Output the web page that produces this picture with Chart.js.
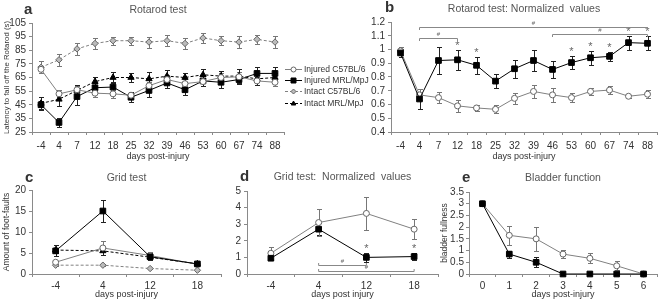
<!DOCTYPE html>
<html><head><meta charset="utf-8">
<script src="https://cdn.jsdelivr.net/npm/chart.js@4.4.1/dist/chart.umd.min.js"></script>
<style>
html,body{margin:0;padding:0;background:#fff;width:662px;height:303px;overflow:hidden;position:relative;}
canvas{position:absolute;}
</style></head><body>
<canvas id="ca" width="380" height="165" style="left:0;top:0;width:380px;height:165px"></canvas>
<canvas id="cb" width="302" height="165" style="left:360px;top:0;width:302px;height:165px"></canvas>
<canvas id="cc" width="226" height="138" style="left:0;top:165px;width:226px;height:138px"></canvas>
<canvas id="cd" width="217" height="138" style="left:226px;top:165px;width:217px;height:138px"></canvas>
<canvas id="ce" width="222" height="138" style="left:440px;top:165px;width:222px;height:138px"></canvas>
<script>
// ---------- DATA ----------
const daysA = ['-4','4','7','12','18','25','32','39','46','53','60','67','74','88'];
const injC57_a = [71,53,56,53.5,53,52,59,63.5,60.5,62,65,65.5,62.5,61.5];
const injC57_a_err = [2.5,2.5,3,3,3,2.5,3,3.5,3.5,3,3.5,3.5,3,3];
const injMRL_a = [45,32,51,57.5,58,50.5,55.5,61,56,62.5,61.5,63.5,68,68];
const injMRL_a_err = [3,3.5,6,3.5,3.5,3.5,4.5,4,4,3.5,4,3.5,4.5,5];
const intC57_a = [72.5,78,86,90,92,92,91,92,90,94,92,91,93,91];
const intC57_a_err = [4.5,4.5,4.5,4,3,3,4,4,4,3.5,3.5,4.5,3.5,4.5];
const intMRL_a = [46,49,55.5,62,65,65,64,66,65,67,66,66,64,65];
const intMRL_a_err = [4.5,5,4,3.5,4,3.5,5,4.5,3.5,4.5,3.5,5,4.5,3.5];

const injMRL_b = [0.975,0.64,0.92,0.925,0.885,0.77,0.86,0.92,0.855,0.905,0.94,0.95,1.05,1.045];
const injMRL_b_err = [0.03,0.07,0.1,0.075,0.06,0.05,0.065,0.08,0.06,0.05,0.05,0.03,0.05,0.05];
const injC57_b = [0.99,0.67,0.65,0.59,0.575,0.565,0.645,0.695,0.67,0.65,0.695,0.705,0.66,0.675];
const injC57_b_err = [0.03,0.04,0.04,0.045,0.02,0.03,0.04,0.05,0.05,0.03,0.025,0.03,0.01,0.03];
const starsB = ['12','18','53','60','67','74','88'];
const bracketsB = [
  {from:'4', to:'12', y:1.085},
  {from:'4', to:'88', y:1.165},
  {from:'46', to:'88', y:1.115}
];

const daysC = ['-4','4','12','18'];
const injMRL_c = [5.5,15,4.1,2.4];
const injMRL_c_err = [1.3,2.7,0.8,0.4];
const injC57_c = [2.8,6.2,4.4,2.3];
const injC57_c_err = [0.3,1.6,0.9,0.3];
const intMRL_c = [5.7,5.5,4.0,2.4];
const intMRL_c_err = [0.6,1.0,0.6,0.3];
const intC57_c = [2.1,2.1,1.3,0.9];
const intC57_c_err = [0.3,0.3,0.2,0.2];

const injC57_d = [1.25,3.1,3.65,2.7];
const injC57_d_err = [0.35,0.8,1.0,0.6];
const injMRL_d = [0.95,2.7,1.0,1.05];
const injMRL_d_err = [0.12,0.35,0.25,0.2];
const starsD = ['12','18'];
const bracketsD = [
  {from:'4', to:'12', y:0.55},
  {from:'4', to:'18', y:0.18}
];

const daysE = ['0','1','2','3','4','5','6'];
const injC57_e = [3,1.65,1.5,0.85,0.67,0.35,0];
const injC57_e_err = [0,0.42,0.5,0.17,0.22,0.2,0];
const injMRL_e = [3,0.85,0.5,0,0,0,0];
const injMRL_e_err = [0,0.15,0.22,0,0,0,0];

const seriesNames = ['Injured C57BL/6','Injured MRL/MpJ','Intact C57BL/6','Intact MRL/MpJ'];

// ---------- STYLE ----------
const F = '"Liberation Sans", Arial, sans-serif';
const AX = '#8a8a8a';
const TXT = '#333';
const GRAY = '#808080';

function styleInjC57(){ return {borderColor:GRAY, borderWidth:1, pointStyle:'circle', pointRadius:3, pointBackgroundColor:'#fff', pointBorderColor:'#666', pointBorderWidth:1, errColor:'#777'}; }
function styleInjMRL(){ return {borderColor:'#000', borderWidth:1, pointStyle:'rect', pointRadius:4, pointBackgroundColor:'#000', pointBorderColor:'#000', pointBorderWidth:1, errColor:'#222'}; }
function styleIntC57(){ return {borderColor:GRAY, borderWidth:1, borderDash:[3,2], pointStyle:'rectRot', pointRadius:3.2, pointBackgroundColor:'#bbb', pointBorderColor:'#666', pointBorderWidth:1, errColor:'#777'}; }
function styleIntMRL(){ return {borderColor:'#000', borderWidth:1, borderDash:[3,2], pointStyle:'triangle', pointRadius:3.6, pointBackgroundColor:'#000', pointBorderColor:'#000', pointBorderWidth:1, errColor:'#222'}; }

function ds(label, data, err, st){
  return Object.assign({label, data, errors:err, clip:false, tension:0, fill:false}, st);
}

// ---------- PLUGINS ----------
const errorBars = {
  id:'errorBars',
  beforeDatasetsDraw(chart){
    const ctx = chart.ctx, ys = chart.scales.y;
    chart.data.datasets.forEach((d,i)=>{
      if(!d.errors) return;
      const meta = chart.getDatasetMeta(i);
      ctx.save();
      ctx.strokeStyle = d.errColor || d.borderColor; ctx.lineWidth = 1; ctx.setLineDash([]);
      d.data.forEach((v,j)=>{
        const e = d.errors[j]; if(!e) return;
        const x = Math.round(meta.data[j].x) + 0.5;
        const y1 = Math.round(ys.getPixelForValue(v+e)) + 0.5, y2 = Math.round(ys.getPixelForValue(v-e)) + 0.5;
        ctx.beginPath();
        ctx.moveTo(x,y1); ctx.lineTo(x,y2);
        ctx.moveTo(x-2.5,y1); ctx.lineTo(x+2.5,y1);
        ctx.moveTo(x-2.5,y2); ctx.lineTo(x+2.5,y2);
        ctx.stroke();
      });
      ctx.restore();
    });
  }
};

const panelText = {
  id:'panelText',
  afterDraw(chart, args, o){
    const ctx = chart.ctx, ca = chart.chartArea;
    ctx.save();
    ctx.textBaseline = 'middle';
    if(o.title){
      ctx.font = '10.5px ' + F; ctx.fillStyle = '#555'; ctx.textAlign = 'center';
      ctx.fillText(o.title, (ca.left+ca.right)/2, o.ty);
    }
    if(o.letter){
      ctx.font = 'bold 15px ' + F; ctx.fillStyle = '#333'; ctx.textAlign = 'left';
      ctx.fillText(o.letter, o.lx, o.ly);
    }
    ctx.restore();
  }
};

const annot = {
  id:'annot',
  afterDatasetsDraw(chart, args, o){
    const ctx = chart.ctx, xs = chart.scales.x, ys = chart.scales.y;
    const labels = chart.data.labels;
    ctx.save();
    ctx.strokeStyle = '#888'; ctx.fillStyle = '#666'; ctx.lineWidth = 1;
    if(o.stars){
      const d = chart.data.datasets[o.starDataset];
      ctx.font = '11px ' + F; ctx.textAlign = 'center'; ctx.textBaseline = 'middle';
      o.stars.forEach(c=>{
        const j = labels.indexOf(c);
        const top = ys.getPixelForValue(d.data[j] + (d.errors[j]||0));
        ctx.fillText('*', xs.getPixelForValue(j), top - 4);
      });
    }
    if(o.brackets){
      ctx.font = '6px ' + F; ctx.textAlign = 'center'; ctx.textBaseline = 'middle';
      o.brackets.forEach(b=>{
        const x1 = xs.getPixelForValue(labels.indexOf(b.from));
        const x2 = xs.getPixelForValue(labels.indexOf(b.to));
        const y = Math.round(ys.getPixelForValue(b.y)) + 0.5;
        const t = o.endsUp ? -2.5 : 2.5;
        ctx.beginPath();
        ctx.moveTo(x1, y+t); ctx.lineTo(x1, y); ctx.lineTo(x2, y); ctx.lineTo(x2, y+t);
        ctx.stroke();
        ctx.fillText('#', (x1+x2)/2, y - 4);
      });
    }
    ctx.restore();
  }
};

function drawMarker(ctx, d, x, y, r){
  ctx.beginPath();
  if(d.pointStyle==='circle'){ ctx.arc(x,y,r,0,Math.PI*2); }
  else if(d.pointStyle==='rect'){ ctx.rect(x-r,y-r,2*r,2*r); }
  else if(d.pointStyle==='rectRot'){ ctx.moveTo(x,y-r); ctx.lineTo(x+r,y); ctx.lineTo(x,y+r); ctx.lineTo(x-r,y); ctx.closePath(); }
  else if(d.pointStyle==='triangle'){ ctx.moveTo(x,y-r); ctx.lineTo(x+r*0.9,y+r*0.6); ctx.lineTo(x-r*0.9,y+r*0.6); ctx.closePath(); }
  ctx.fillStyle = d.pointBackgroundColor; ctx.fill();
  ctx.strokeStyle = d.pointBorderColor; ctx.lineWidth = 1; ctx.setLineDash([]); ctx.stroke();
}

const sideLegend = {
  id:'sideLegend',
  afterDraw(chart, args, o){
    const ctx = chart.ctx;
    ctx.save();
    ctx.font = '8.5px ' + F; ctx.textBaseline = 'middle'; ctx.textAlign = 'left';
    chart.data.datasets.forEach((d,i)=>{
      const y = Math.round(o.y0 + i*o.dy) + 0.5;
      ctx.strokeStyle = d.borderColor; ctx.lineWidth = 1; ctx.setLineDash(d.borderDash||[]);
      ctx.beginPath(); ctx.moveTo(o.x0, y); ctx.lineTo(o.x0+17, y); ctx.stroke();
      drawMarker(ctx, d, o.x0+8.5, y, 2.5);
      ctx.fillStyle = TXT;
      ctx.fillText(d.label, o.x0+19, y);
    });
    ctx.restore();
  }
};

// ---------- SCALES ----------
function xScale(h, pad, title){
  return {
    type:'category', offset:true,
    grid:{display:true, drawOnChartArea:false, drawTicks:true, tickLength:3, offset:true, color:AX},
    border:{display:true, color:AX, width:1},
    ticks:{font:{family:F, size:10}, color:TXT, padding:pad, maxRotation:0, autoSkip:false},
    title:{display:true, text:title, font:{family:F, size:9}, color:TXT, padding:{top:0, bottom:3}},
    afterFit(s){ s.height = h; }
  };
}
function yScale(min, max, step, w, title, tsize, tpad, tickPad){
  return {
    min, max,
    grid:{display:true, drawOnChartArea:false, drawTicks:true, tickLength:3, color:AX},
    border:{display:true, color:AX, width:1},
    ticks:{stepSize:step, autoSkip:false, font:{family:F, size:10}, color:TXT, padding:(tickPad==null?3:tickPad),
      callback:(v)=>String(+(+v).toFixed(2))},
    title: title ? {display:true, text:title, font:{family:F, size:tsize||8.5}, color:TXT, padding:{top:(tpad==null?2:tpad), bottom:0}} : {display:false},
    afterFit(s){ s.width = w; }
  };
}
function baseOpts(pad, plugins){
  return {
    responsive:false, animation:false, devicePixelRatio:1,
    layout:{padding:pad},
    plugins:Object.assign({legend:{display:false}, tooltip:{enabled:false}}, plugins),
  };
}

// ---------- CHART A ----------
new Chart(document.getElementById('ca'), {
  type:'line',
  data:{labels:daysA, datasets:[
    ds(seriesNames[0], injC57_a, injC57_a_err, styleInjC57()),
    ds(seriesNames[1], injMRL_a, injMRL_a_err, styleInjMRL()),
    ds(seriesNames[2], intC57_a, intC57_a_err, styleIntC57()),
    ds(seriesNames[3], intMRL_a, intMRL_a_err, styleIntMRL())
  ]},
  options:Object.assign(baseOpts({left:0, top:23, right:96, bottom:0},
    {panelText:{title:'Rotarod test', ty:10, letter:'a', lx:24, ly:10},
     sideLegend:{x0:285, y0:69, dy:11.2}}),
    {scales:{x:xScale(33, 5, 'days post-injury'), y:yScale(25,105,10,32,'Latency to fall off the Rotarod (s)',7.8)}}),
  plugins:[errorBars, panelText, sideLegend]
});

// ---------- CHART B ----------
new Chart(document.getElementById('cb'), {
  type:'line',
  data:{labels:daysA, datasets:[
    ds(seriesNames[1], injMRL_b, injMRL_b_err, styleInjMRL()),
    ds(seriesNames[0], injC57_b, injC57_b_err, styleInjC57())
  ]},
  options:Object.assign(baseOpts({left:0, top:22, right:5, bottom:0},
    {panelText:{title:'Rotarod test: Normalized  values', ty:9, letter:'b', lx:25, ly:8},
     annot:{stars:starsB, starDataset:0, brackets:bracketsB, endsUp:false}}),
    {scales:{x:xScale(33, 5, 'days post-injury'), y:yScale(0.4,1.2,0.1,31,null)}}),
  plugins:[errorBars, panelText, annot]
});

// ---------- CHART C ----------
new Chart(document.getElementById('cc'), {
  type:'line',
  data:{labels:daysC, datasets:[
    ds(seriesNames[1], injMRL_c, injMRL_c_err, styleInjMRL()),
    ds(seriesNames[0], injC57_c, injC57_c_err, styleInjC57()),
    ds(seriesNames[3], intMRL_c, intMRL_c_err, styleIntMRL()),
    ds(seriesNames[2], intC57_c, intC57_c_err, styleIntC57())
  ]},
  options:Object.assign(baseOpts({left:0, top:25, right:2, bottom:0},
    {panelText:{title:'Grid test', ty:13, letter:'c', lx:25, ly:13}}),
    {scales:{x:xScale(29, 3, 'days post-injury'), y:yScale(0,20,5,32,'Amount of foot-faults')}}),
  plugins:[errorBars, panelText]
});

// ---------- CHART D ----------
new Chart(document.getElementById('cd'), {
  type:'line',
  data:{labels:daysC, datasets:[
    ds(seriesNames[1], injMRL_d, injMRL_d_err, styleInjMRL()),
    ds(seriesNames[0], injC57_d, injC57_d_err, styleInjC57())
  ]},
  options:Object.assign(baseOpts({left:0, top:26, right:2, bottom:0},
    {panelText:{title:'Grid test:  Normalized  values', ty:12, letter:'d', lx:14, ly:12},
     annot:{stars:starsD, starDataset:0, brackets:bracketsD, endsUp:true}}),
    {scales:{x:xScale(29, 3, 'days post injury'), y:yScale(0,5,1,21,null)}}),
  plugins:[errorBars, panelText, annot]
});

// ---------- CHART E ----------
new Chart(document.getElementById('ce'), {
  type:'line',
  data:{labels:daysE, datasets:[
    ds(seriesNames[1], injMRL_e, injMRL_e_err, styleInjMRL()),
    ds(seriesNames[0], injC57_e, injC57_e_err, styleInjC57())
  ]},
  options:Object.assign(baseOpts({left:0, top:27, right:2, bottom:0},
    {panelText:{title:'Bladder function', ty:13, letter:'e', lx:22, ly:13}}),
    {scales:{x:xScale(29, 3, 'days post-injury'), y:yScale(0,3.5,0.5,29,'bladder fullness',8.5,0,2)}}),
  plugins:[errorBars, panelText]
});
</script>
</body></html>
